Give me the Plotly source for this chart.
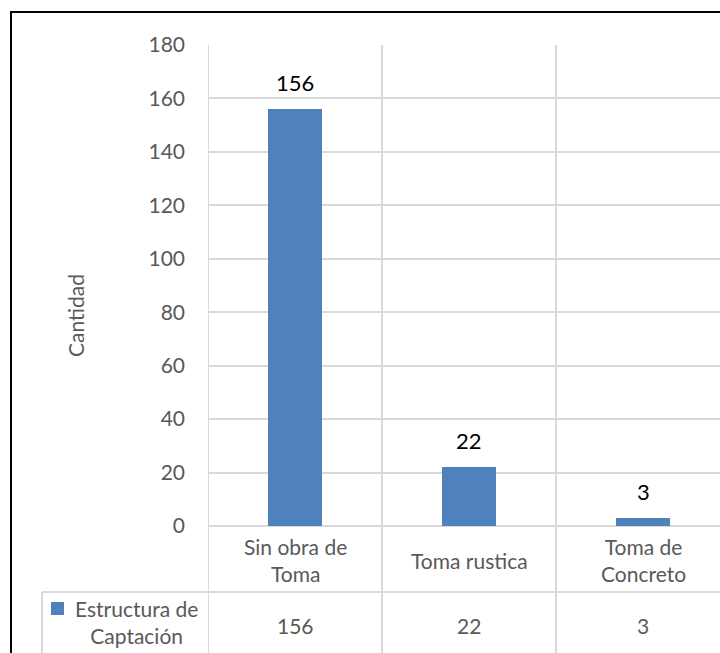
import plotly.graph_objects as go

# Data
categories = ["Sin obra de<br>Toma", "Toma rustica", "Toma de<br>Concreto"]
values = [156, 22, 3]
series_name = "Estructura de<br>Captación"
y_ticks = [0, 20, 40, 60, 80, 100, 120, 140, 160, 180]

BAR = "#4F81BD"
TXT = "#595959"
GRID = "#D9D9D9"
FONT = "Lato"
FS = 21

W, H = 720, 653
L, T, B = 208, 45, 127
plot_w = W - L
plot_h = H - T - B
cat_px = 174  # width of one category column in pixels

x_pos = list(range(len(categories)))
fig = go.Figure()
fig.add_trace(go.Bar(x=x_pos, y=values, width=0.316, marker_color=BAR,
                     marker_line_width=0, showlegend=False))

def px_x(p):
    return (p - L) / plot_w

def px_y(p):
    return 1 - (p - T) / plot_h

shapes = []
ann = []

# value labels above bars
for i, v in enumerate(values):
    ann.append(dict(x=i, y=v, xref="x", yref="y", text=str(v), showarrow=False,
                    xanchor="center", yanchor="bottom", yshift=11,
                    font=dict(family=FONT, size=22, color="black")))

# category row labels and value row
for i, (c, v) in enumerate(zip(categories, values)):
    ann.append(dict(x=i, y=px_y(560), xref="x", yref="paper", text=c, showarrow=False,
                    xanchor="center", yanchor="middle",
                    font=dict(family=FONT, size=FS, color=TXT)))
    ann.append(dict(x=i, y=px_y(625), xref="x", yref="paper", text=str(v), showarrow=False,
                    xanchor="center", yanchor="middle",
                    font=dict(family=FONT, size=FS, color=TXT)))

# legend key in the table: colour swatch plus series name
shapes.append(dict(type="rect", xref="paper", yref="paper", x0=px_x(51), x1=px_x(64),
                   y0=px_y(615), y1=px_y(602), fillcolor=BAR, line=dict(width=0)))
ann.append(dict(x=px_x(136), y=px_y(622), xref="paper", yref="paper",
                text=series_name, showarrow=False, align="center",
                xanchor="center", yanchor="middle",
                font=dict(family=FONT, size=FS, color=TXT)))

# y axis title
ann.append(dict(x=px_x(75), y=px_y(316), xref="paper", yref="paper", text="Cantidad",
                textangle=-90, showarrow=False, xanchor="center", yanchor="middle",
                font=dict(family=FONT, size=FS, color=TXT)))

# table grid lines
line = dict(color=GRID, width=2)
for xb in [-0.5, 0.5, 1.5]:
    shapes.append(dict(type="line", xref="x", yref="paper", x0=xb, x1=xb,
                       y0=1, y1=px_y(H + 5), line=line))
shapes.append(dict(type="line", xref="paper", yref="paper", x0=0, x1=1.02,
                   y0=px_y(592), y1=px_y(592), line=line))
shapes.append(dict(type="line", xref="paper", yref="paper", x0=px_x(42), x1=0,
                   y0=px_y(592), y1=px_y(592), line=line))
shapes.append(dict(type="line", xref="paper", yref="paper", x0=px_x(42), x1=px_x(42),
                   y0=px_y(592), y1=px_y(H + 5), line=line))

# chart border
shapes.append(dict(type="rect", xref="paper", yref="paper", x0=px_x(11), x1=px_x(W + 20),
                   y0=px_y(H + 20), y1=px_y(12), line=dict(color="black", width=2)))

fig.update_layout(
    width=W, height=H,
    margin=dict(l=L, r=0, t=T, b=B),
    paper_bgcolor="white", plot_bgcolor="white",
    font=dict(family=FONT, color=TXT),
    xaxis=dict(range=[-0.5, -0.5 + plot_w / cat_px], showticklabels=False,
               showgrid=False, zeroline=False, fixedrange=True),
    yaxis=dict(range=[0, 180], tickvals=y_ticks, showgrid=True, gridcolor=GRID, gridwidth=2,
               zeroline=True, zerolinecolor=GRID, zerolinewidth=2,
               tickfont=dict(family=FONT, size=FS, color=TXT), ticklabelstandoff=22,
               showline=False),
    shapes=shapes, annotations=ann, bargap=0,
)

fig.write_html("out.html")
